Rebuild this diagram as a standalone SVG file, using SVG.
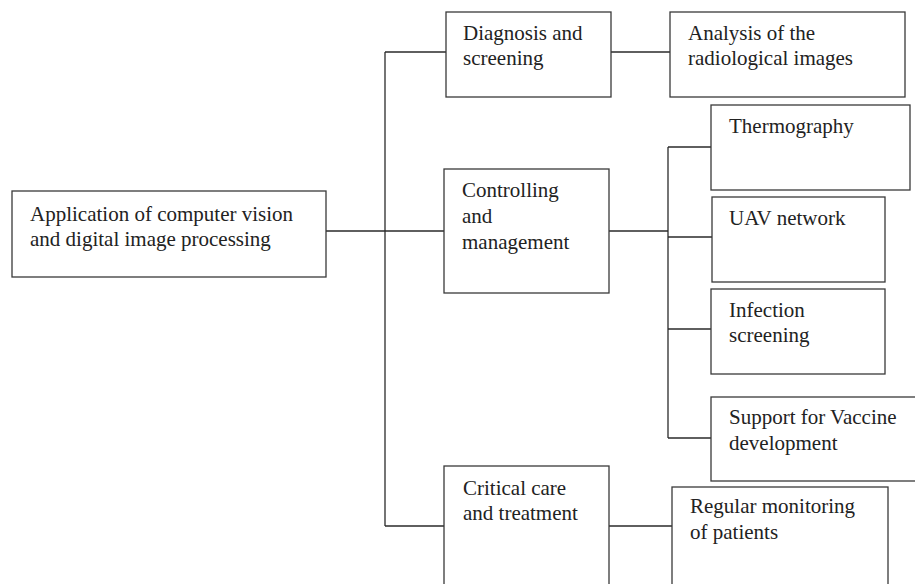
<svg xmlns="http://www.w3.org/2000/svg" width="915" height="584" viewBox="0 0 915 584">
<style>
.box{fill:#fff;stroke:#3a3a3a;stroke-width:1.3}
.ln{fill:none;stroke:#2a2a2a;stroke-width:1.3}
text{font-family:"Liberation Serif","Times New Roman",serif;font-size:21px;fill:#222}
</style>
<rect width="915" height="584" fill="#fff"/>
<g id="connectors">
<path class="ln" d="M326 231H444"/>
<path class="ln" d="M385 52V526"/>
<path class="ln" d="M385 52H446"/>
<path class="ln" d="M385 526H444"/>
<path class="ln" d="M611 52H670"/>
<path class="ln" d="M609 231H668"/>
<path class="ln" d="M668 147V438"/>
<path class="ln" d="M668 147H711"/>
<path class="ln" d="M668 237H712"/>
<path class="ln" d="M668 329H711"/>
<path class="ln" d="M668 438H711"/>
<path class="ln" d="M609 526H672"/>
</g>
<g id="root">
<rect class="box" x="12" y="191" width="314" height="86"/>
<text x="30" y="221">Application of computer vision</text>
<text x="30" y="246">and digital image processing</text>
</g>
<g id="diagnosis">
<rect class="box" x="446" y="12" width="165" height="85"/>
<text x="463" y="40">Diagnosis and</text>
<text x="463" y="65">screening</text>
</g>
<g id="analysis">
<rect class="box" x="670" y="12" width="235" height="85"/>
<text x="688" y="40">Analysis of the</text>
<text x="688" y="65">radiological images</text>
</g>
<g id="controlling">
<rect class="box" x="444" y="169" width="165" height="124"/>
<text x="462" y="197">Controlling</text>
<text x="462" y="223">and</text>
<text x="462" y="249">management</text>
</g>
<g id="thermography">
<rect class="box" x="711" y="105" width="199" height="85"/>
<text x="729" y="133">Thermography</text>
</g>
<g id="uav">
<rect class="box" x="712" y="197" width="173" height="85"/>
<text x="729" y="225">UAV network</text>
</g>
<g id="infection">
<rect class="box" x="711" y="289" width="174" height="85"/>
<text x="729" y="317">Infection</text>
<text x="729" y="342">screening</text>
</g>
<g id="vaccine">
<rect class="box" x="711" y="397" width="220" height="84"/>
<text x="729" y="424">Support for Vaccine</text>
<text x="729" y="450">development</text>
</g>
<g id="critical">
<rect class="box" x="444" y="466" width="165" height="140"/>
<text x="463" y="495">Critical care</text>
<text x="463" y="520">and treatment</text>
</g>
<g id="monitoring">
<rect class="box" x="672" y="487" width="216" height="120"/>
<text x="690" y="513">Regular monitoring</text>
<text x="690" y="539">of patients</text>
</g>
</svg>
